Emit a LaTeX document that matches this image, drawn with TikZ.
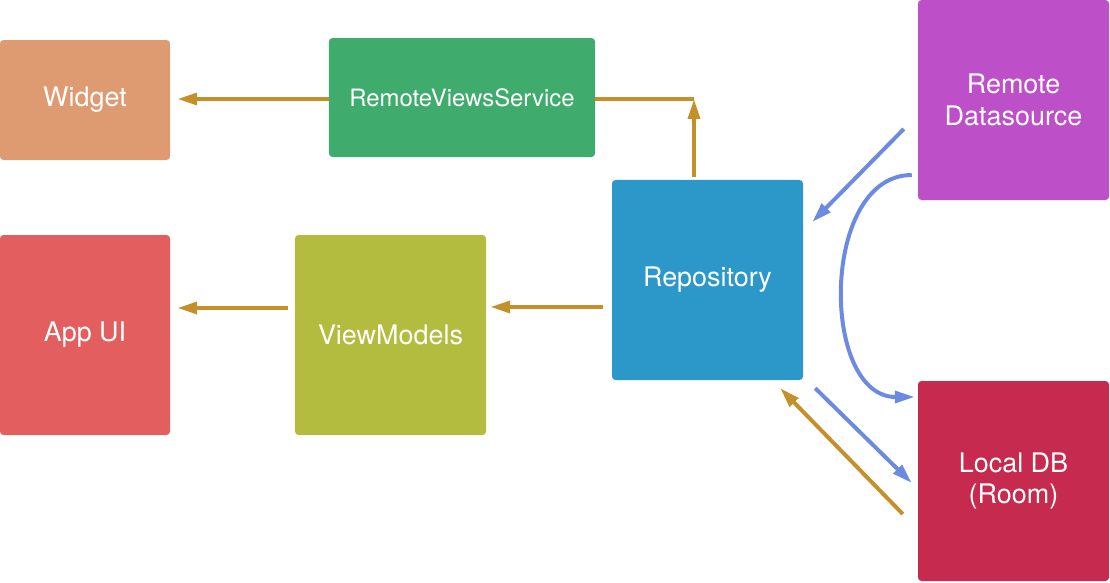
\documentclass[tikz,border=0pt]{standalone}
\usepackage{fontspec}
\setmainfont{TeX Gyre Heros}
\usetikzlibrary{arrows.meta}

\definecolor{widgetcol}{HTML}{DE9B72}
\definecolor{servicecol}{HTML}{3FAC6D}
\definecolor{appcol}{HTML}{E25E5F}
\definecolor{vmcol}{HTML}{B3BC3F}
\definecolor{repocol}{HTML}{2C97C9}
\definecolor{remotecol}{HTML}{BD4FC9}
\definecolor{localcol}{HTML}{C72A4F}
\definecolor{goldcol}{HTML}{C4902A}
\definecolor{bluecol}{HTML}{6C8BE0}

\tikzset{
  block/.style={fill=#1, text=white, rounded corners=3pt, align=center,
    inner sep=0pt, font=\fontsize{23}{27}\selectfont},
  goldline/.style={goldcol, line width=3.4pt},
  goldarrow/.style={goldline, -{Triangle[length=17pt,width=10pt]}},
  bluearrow/.style={bluecol, line width=3.4pt, -{Triangle[length=17pt,width=10pt]}}
}

\begin{document}
\begin{tikzpicture}[x=0.03cm, y=-0.03cm]
      \useasboundingbox (0,0) rectangle (1110,583);

      % boxes
      \node[block=widgetcol, minimum width=5.1cm, minimum height=3.6cm] (widget) at (85,100) {Widget};
      \node[block=servicecol, minimum width=7.98cm, minimum height=3.57cm,
            font=\fontsize{20.4}{24}\selectfont] (service) at (462,97.5) {RemoteViewsService};
      \node[block=appcol, minimum width=5.1cm, minimum height=6cm] (appui) at (85,335) {App UI};
      \node[block=vmcol, minimum width=5.73cm, minimum height=6cm] (vm) at (390.5,335) {ViewModels};
      \node[block=repocol, minimum width=5.73cm, minimum height=6cm] (repo) at (707.5,280) {Repository};
      \node[block=remotecol, minimum width=5.73cm, minimum height=6cm] (remote) at (1013.5,100) {Remote\\Datasource};
      \node[block=localcol, minimum width=5.73cm, minimum height=6cm] (local) at (1013.5,481) {Local DB\\(Room)};

      \coordinate (corner) at (694,99);

      % gold data flow
      \draw[goldarrow, shorten >=6pt] ([shift={(0,1.5)}]service.west) -- ([shift={(0,1.5)}]service.west -| widget.east);
      \draw[goldline] ([shift={(0,1.5)}]service.east) -- (corner);
      \draw[goldarrow, shorten <=2pt] (repo.north -| corner) -- (corner);
      \draw[goldarrow] ([shift={(-9,27)}]repo.west) -- ([shift={(4,-28)}]vm.east);
      \draw[goldarrow, shorten >=6pt, shorten <=6pt] ([shift={(0,-27)}]vm.west) -- ([shift={(0,-27)}]vm.west -| appui.east);
      \draw[goldarrow] ([shift={(-15,33)}]local.west) -- ([shift={(-23,8)}]repo.south east);

      % blue sync flow
      \draw[bluearrow] ([shift={(-14,29)}]remote.west) -- ([shift={(9,-58)}]repo.east);
      \draw[bluearrow] ([shift={(-6,75)}]remote.west) .. controls (820,175) and (820,397) .. ([shift={(-3,-84)}]local.west);
      \draw[bluearrow] ([shift={(12,8)}]repo.south east) -- ([shift={(-6,2)}]local.west);
\end{tikzpicture}
\end{document}
